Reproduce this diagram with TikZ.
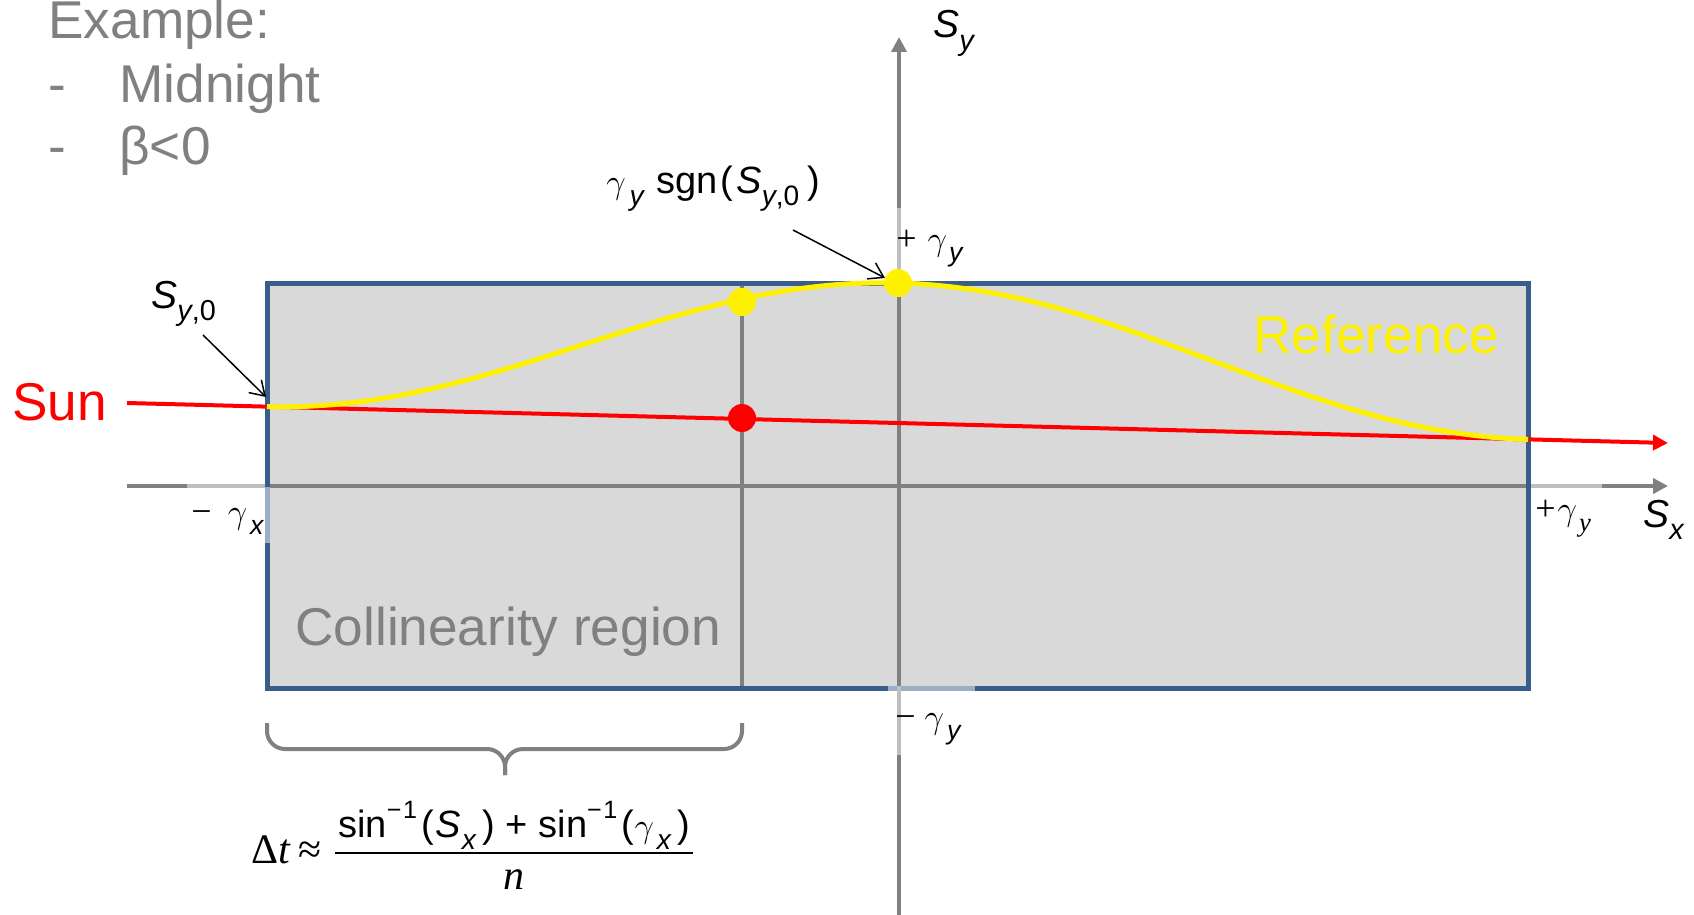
\documentclass[tikz,border=0pt]{standalone}
\usepackage{fontspec}
\setmainfont{Liberation Sans}
\newfontfamily\ser{Liberation Serif}
\usepackage{graphicx}
\usetikzlibrary{arrows.meta}
\definecolor{axisgray}{RGB}{128,128,128}
\definecolor{axislight}{RGB}{191,191,191}
\definecolor{boxblue}{RGB}{56,93,138}
\definecolor{boxlight}{RGB}{155,174,197}
\definecolor{boxfill}{RGB}{217,217,217}
\definecolor{textgray}{RGB}{128,128,128}
\newcommand{\lo}[1]{\raisebox{-0.32em}{\scalebox{0.74}{#1}}}
\newcommand{\hi}[1]{\raisebox{0.5em}{\scalebox{0.66}{#1}}}
\newcommand{\gm}{\ensuremath{\gamma}}
\tikzset{
  big/.style={font=\fontsize{26.6}{31}\selectfont, inner sep=0pt, anchor=base west},
  lab/.style={font=\fontsize{18}{21}\selectfont, inner sep=0pt, anchor=base west},
  axlab/.style={font=\fontsize{19.5}{23}\selectfont, inner sep=0pt, anchor=base west},
  fml/.style={font=\fontsize{19}{22}\selectfont, inner sep=0pt},
  ax/.style={axisgray, line width=2pt, -{Triangle[length=7.5pt,width=7.5pt]}},
  ptr/.style={black, line width=0.75pt, -{Straight Barb[length=7pt,width=9pt]}},
  lightax/.style={axislight, line width=2pt},
  lightbox/.style={boxlight, line width=2.5pt},
  dot/.style={circle, inner sep=0pt, minimum size=14pt},
}
\begin{document}
\begin{tikzpicture}[x=0.5pt,y=-0.5pt]
\useasboundingbox (0,0) rectangle (1694,915);
% coordinates
\coordinate (bl) at (267,283);
\coordinate (tr) at (1528,688);
\coordinate (xl) at (127,486);
\coordinate (xr) at (1668,486);
\coordinate (yb) at (899,915);
\coordinate (yt) at (899,37);
\coordinate (vt) at (742,283);
\coordinate (vb) at (742,688);
\coordinate (sunL) at (127,403);
\coordinate (sunR) at (1668,443);
% region
\fill[boxfill] (bl) rectangle (tr);
\draw[axisgray, line width=2pt] (vt) -- (vb);
\draw[ax] (xl) -- (xr);
\draw[ax] (yb) -- (yt);
\draw[boxblue, line width=2.5pt] (bl) rectangle (tr);
% label backgrounds (lightened segments)
\draw[lightax] (187,486) -- (265,486);
\draw[lightbox] (267,487) -- (267,543);
\draw[lightax] (1531,486) -- (1602,486);
\draw[lightax] (899,208) -- (899,281);
\draw[lightbox] (888,688) -- (975,688);
\draw[lightax] (899,686) -- (899,755);
% sun line
\draw[red, line width=2pt, -{Triangle[length=7.5pt,width=7.5pt]}] (sunL) -- (sunR);
% reference curve
\draw[yellow, line width=2.5pt] plot[domain=-1:1, samples=150, smooth, variable=\t]
  ({898+631*\t}, {403+0.02596*(771+631*\t)-140*(cos(90*\t))^2});
% dots
\node[dot, fill=yellow] (yd1) at (742,302) {};
\node[dot, fill=yellow] (yd2) at (898,283) {};
\node[dot, fill=red] (rd) at (742,418) {};
% top-left text
\node[big, textgray] (ex) at (48,39) {Example:};
\node[big, textgray] (d1) at (48,103) {-};
\node[big, textgray] (mid) at (119,103) {Midnight};
\node[big, textgray] (d2) at (48,165) {-};
\node[big, textgray] (beta) at (119,165) {β<0};
% big labels
\node[big, red] (sun) at (12,420) {Sun};
\node[big, yellow] (ref) at (1253,353) {Reference};
\node[big, textgray] (col) at (295,645) {Collinearity region};
% axis labels
\node[axlab] (sy) at (933,38) {\textit{S}\lo{\textit{y}}};
\node[axlab] (sx) at (1643,527) {\textit{S}\lo{\textit{x}}};
\node[axlab] (sy0) at (151,308) {\textit{S}\lo{\textit{y},0}};
\node[fml, anchor=base west] (sgn) at (606,193) {\gm\kern0.1em\lo{\textit{y}}\kern0.3em sgn\kern0.08em(\kern0.08em\textit{S}\lo{\textit{y},0}\kern0.22em)};
\node[lab] (gyt) at (896,250) {{\ser +}\kern0.3em\gm\kern0.06em\lo{\textit{y}}};
\node[lab] (gxl) at (191,523) {{\ser −}\kern0.45em\gm\kern0.08em\lo{\textit{x}}};
\node[lab] (gyb) at (895,728) {{\ser −}\kern0.25em\gm\kern0.08em\lo{\textit{y}}};
\node[lab] (gyr) at (1535,520) {{\ser +}\kern0.05em\gm\kern0.06em\lo{\ser\itshape y}};
% pointers
\coordinate (p1s) at (203,335);
\coordinate (p1e) at (266,397);
\coordinate (p2s) at (793,230);
\coordinate (p2e) at (885,278);
\draw[ptr] (p1s) -- (p1e);
\draw[ptr] (p2s) -- (p2e);
% brace
\draw[axisgray, line width=2pt, rounded corners=9pt] (267,723) -- (267,749) -- (505,749) -- (505,775);
\draw[axisgray, line width=2pt, rounded corners=9pt] (742,723) -- (742,749) -- (505,749) -- (505,775);
% formula
\node[fml, anchor=base west, font=\fontsize{21}{24}\selectfont] (dt) at (251,863) {{\ser Δ}{\ser\itshape t}\kern0.2em{\ser ≈}};
\node[fml, anchor=base west] (num) at (338,837) {sin\hi{−\kern0.06em 1}\kern0.12em(\kern0.03em\textit{S}\kern0.03em\lo{\textit{x}}\kern0.15em)\kern0.28em+\kern0.28em sin\hi{−\kern0.06em 1}\kern0.12em(\gm\kern0.08em\lo{\textit{x}}\kern0.15em)};
\coordinate (fbl) at (335,853);
\coordinate (fbr) at (693,853);
\draw[black, line width=1pt] (fbl) -- (fbr);
\node[fml, anchor=base, font=\fontsize{21}{24}\selectfont] (den) at (514,889) {{\ser\itshape n}};
\end{tikzpicture}
\end{document}
